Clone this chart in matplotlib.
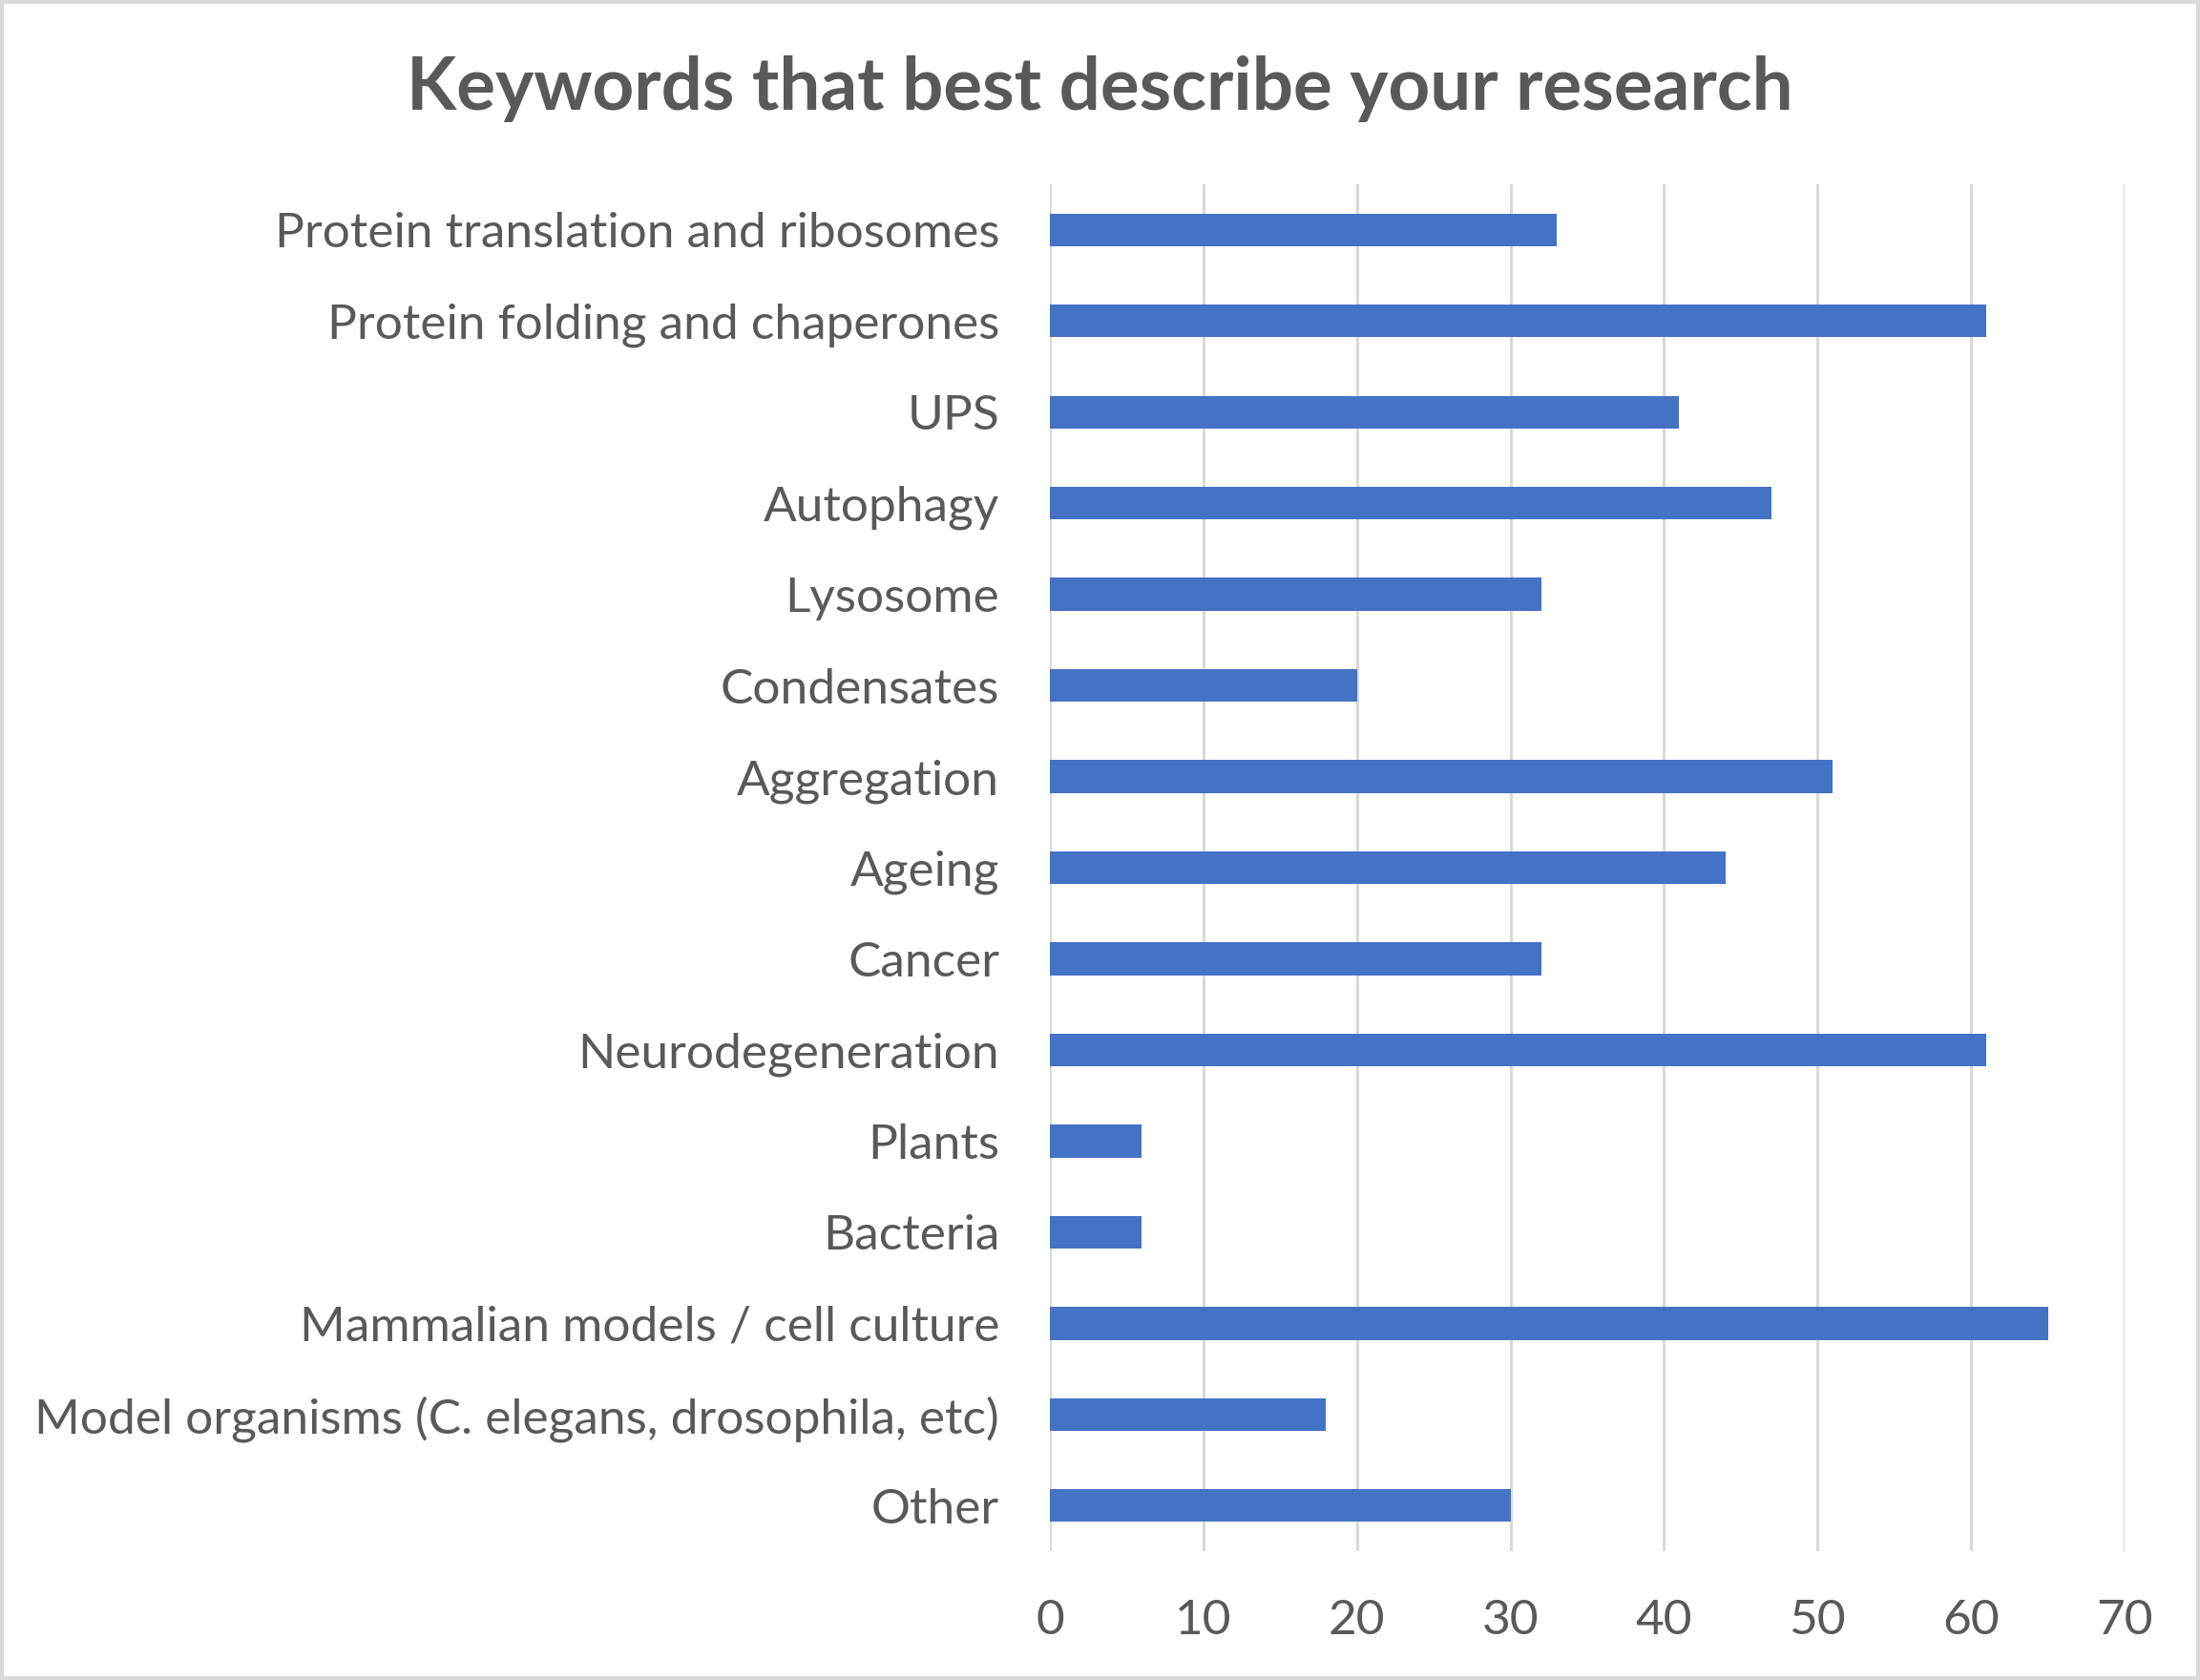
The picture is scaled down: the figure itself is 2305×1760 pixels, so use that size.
import matplotlib
matplotlib.use("Agg")
import matplotlib.pyplot as plt
from matplotlib.patches import Rectangle

# data (top to bottom as shown)
categories = [
    "Protein translation and ribosomes",
    "Protein folding and chaperones",
    "UPS",
    "Autophagy",
    "Lysosome",
    "Condensates",
    "Aggregation",
    "Ageing",
    "Cancer",
    "Neurodegeneration",
    "Plants",
    "Bacteria",
    "Mammalian models / cell culture",
    "Model organisms (C. elegans, drosophila, etc)",
    "Other",
]
counts = [33, 61, 41, 47, 32, 20, 51, 44, 32, 61, 6, 6, 65, 18, 30]
xticks = [0, 10, 20, 30, 40, 50, 60, 70]

text_col = "#595959"
plt.rcParams["font.family"] = ["Lato", "DejaVu Sans"]

fig = plt.figure(figsize=(23.05, 17.6), dpi=100)
ax = fig.add_axes([0.4772, 0.0767, 0.4885, 0.8136])

ypos = list(range(len(categories)))
ax.barh(ypos, counts, height=0.36, color="#4472C4", zorder=3)

ax.set_ylim(len(categories) - 0.5, -0.5)
ax.set_xlim(0, 70)
ax.set_xticks(xticks)
ax.set_yticks(ypos)
ax.set_yticklabels(categories)
ax.grid(axis="x", color="#d9d9d9", linewidth=2.2, zorder=0)
for s in ax.spines.values():
    s.set_visible(False)
ax.tick_params(axis="both", length=0, labelsize=37, colors=text_col)
ax.tick_params(axis="y", pad=38)
ax.tick_params(axis="x", pad=36)

fig.text(0.4998, 0.947, "Keywords that best describe your research",
         ha="center", va="center", fontsize=55, fontweight="bold", color=text_col)

fig.patches.append(Rectangle((0.001, 0.001), 0.998, 0.998, transform=fig.transFigure,
                             fill=False, edgecolor="#d9d9d9", linewidth=3))

fig.savefig("out.png", dpi=100, facecolor="white")
